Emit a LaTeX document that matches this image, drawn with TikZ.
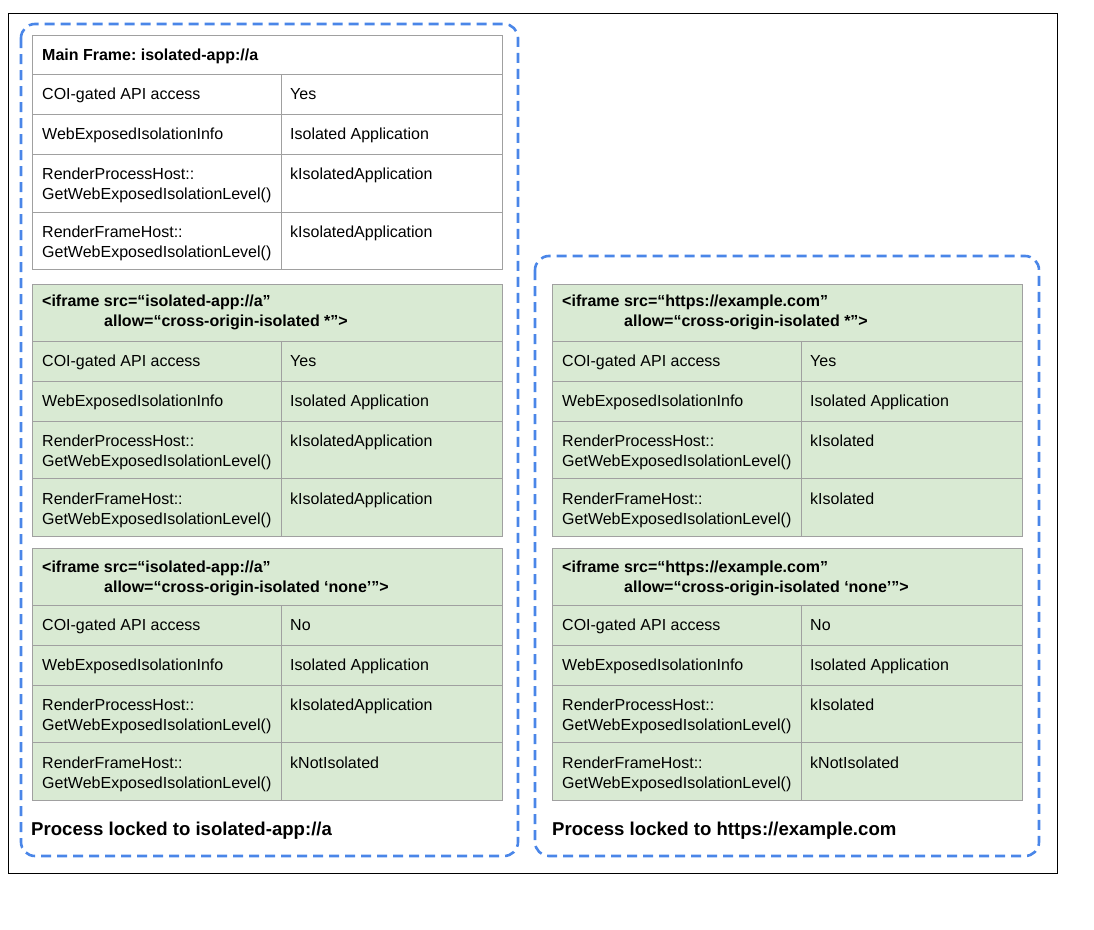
\documentclass[tikz,border=0pt]{standalone}
\usepackage{fontspec}
\setmainfont{Liberation Sans}
\usepackage{tikz}
\frenchspacing

\definecolor{coigreen}{HTML}{D9EAD3}
\definecolor{gridgray}{HTML}{A0A0A0}
\definecolor{procblue}{HTML}{4A86E8}

\tikzset{
  cell/.style={draw=gridgray, line width=1pt},
  celltext/.style={anchor=base west, inner sep=0pt, align=left, font=\fontsize{16}{20}\selectfont},
  headtext/.style={celltext, font=\fontsize{16}{20}\selectfont\bfseries},
  procbox/.style={draw=procblue, line width=2.6pt, dash pattern=on 10pt off 6pt, rounded corners=14pt},
  proclabel/.style={anchor=base west, inner sep=0pt, font=\fontsize{18.6}{22}\selectfont\bfseries}
}

\begin{document}
\begin{tikzpicture}[x=1pt, y=-1pt]
			\useasboundingbox (0,0) rectangle (1094,929);
			\draw[black, line width=1pt] (8,13) rectangle (1057,873);
			% main frame table
			\draw[cell] (32,35) rectangle (502,269);
			\foreach \y in {74,114,154,212}
			\draw[cell] (32,\y) -- (502,\y);
			\draw[cell] (281,74) -- (281,269);
			\node[headtext] (main-head) at (42,60) {Main Frame: isolated-app://a};
			% iframe tables
			\foreach \tx/\ty in {32/284, 32/548, 552/284, 552/548} {
				\filldraw[cell, fill=coigreen] (\tx,\ty) rectangle (\tx+470,\ty+252);
				\foreach \dy in {57,97,137,194}
				\draw[cell] (\tx,\ty+\dy) -- (\tx+470,\ty+\dy);
				\draw[cell] (\tx+249,\ty+57) -- (\tx+249,\ty+252);
			}
			% multi-line nodes sit on their last line
			\node[headtext] (a-head) at (42,326) {<iframe src=“isolated-app://a”\\\hspace{62pt}allow=“cross-origin-isolated *”>};
			\node[headtext] (b-head) at (42,592) {<iframe src=“isolated-app://a”\\\hspace{62pt}allow=“cross-origin-isolated ‘none’”>};
			\node[headtext] (c-head) at (562,326) {<iframe src=“https://example.com”\\\hspace{62pt}allow=“cross-origin-isolated *”>};
			\node[headtext] (d-head) at (562,592) {<iframe src=“https://example.com”\\\hspace{62pt}allow=“cross-origin-isolated ‘none’”>};
			% rows
			\foreach \tx/\ty/\t/\coi/\lvl/\frm in {32/74/main/Yes/kIsolatedApplication/kIsolatedApplication, 32/341/a/Yes/kIsolatedApplication/kIsolatedApplication, 32/605/b/No/kIsolatedApplication/kNotIsolated, 552/341/c/Yes/kIsolated/kIsolated, 552/605/d/No/kIsolated/kNotIsolated} {
				\node[celltext] (\t-coi) at (\tx+10,\ty+25) {COI-gated API access};
				\node[celltext] (\t-info) at (\tx+10,\ty+65) {WebExposedIsolationInfo};
				\node[celltext] (\t-rph) at (\tx+10,\ty+125) {RenderProcessHost::\\GetWebExposedIsolationLevel()};
				\node[celltext] (\t-rfh) at (\tx+10,\ty+183) {RenderFrameHost::\\GetWebExposedIsolationLevel()};
				\node[celltext] (\t-coi-v) at (\tx+258,\ty+25) {\coi};
				\node[celltext] (\t-info-v) at (\tx+258,\ty+65) {Isolated Application};
				\node[celltext] (\t-rph-v) at (\tx+258,\ty+105) {\lvl};
				\node[celltext] (\t-rfh-v) at (\tx+258,\ty+163) {\frm};
			}
			% process boxes
			\draw[procbox] (21,24) rectangle (518,856);
			\draw[procbox] (535,256) rectangle (1039,856);
			\node[proclabel] (left-proc) at (31,835) {Process locked to isolated-app://a};
			\node[proclabel] (right-proc) at (552,835) {Process locked to https://example.com};
\end{tikzpicture}
\end{document}
